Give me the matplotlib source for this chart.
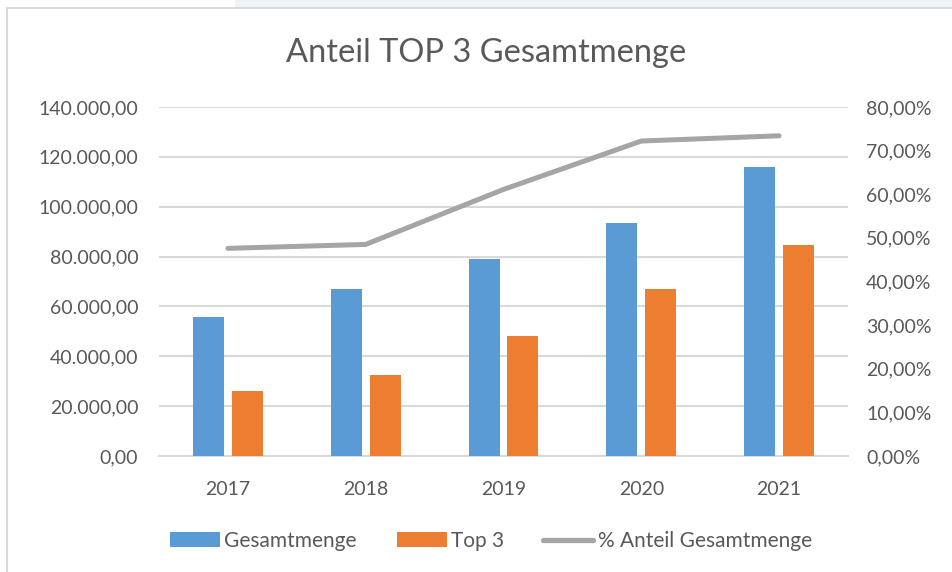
import matplotlib
matplotlib.use("Agg")
import matplotlib.pyplot as plt
import numpy as np
from matplotlib.patches import Rectangle, Patch
from matplotlib.lines import Line2D
from matplotlib.ticker import FuncFormatter, MultipleLocator

years = ["2017", "2018", "2019", "2020", "2021"]
gesamtmenge = [55600, 66800, 79000, 93300, 116000]
top3 = [26200, 32300, 48100, 66800, 84600]
anteil = [0.476, 0.485, 0.611, 0.722, 0.734]

BLUE = "#5B9BD5"
ORANGE = "#ED7D31"
GRAY = "#A5A5A5"
TXT = "#595959"
GRID = "#D9D9D9"

plt.rcParams['font.family'] = ['Lato', 'DejaVu Sans']

W, H = 953, 572
fig = plt.figure(figsize=(W / 100, H / 100), dpi=100)
fig.patch.set_facecolor("white")

def fx(px):
    return px / W

def fy(py):
    return 1 - py / H

# screenshot surroundings: top strip and chart border
fig.patches.append(Rectangle((fx(235), fy(8)), 1 - fx(235), 1 - fy(8),
                             transform=fig.transFigure, facecolor="#EEF3F7",
                             edgecolor="none", zorder=0))
fig.lines.append(Line2D([fx(7), fx(7)], [0, fy(8)], transform=fig.transFigure,
                        color=GRID, lw=1.5))
fig.lines.append(Line2D([fx(7), 1], [fy(8), fy(8)], transform=fig.transFigure,
                        color=GRID, lw=1.5))

left, right, top, bottom = 159, 848, 107, 456
ax = fig.add_axes([fx(left), fy(bottom), fx(right) - fx(left), fy(top) - fy(bottom)])
ax2 = ax.twinx()

x = np.arange(len(years))
bw = 0.225
off = 0.141
ax.bar(x - off, gesamtmenge, bw, color=BLUE, zorder=3)
ax.bar(x + off, top3, bw, color=ORANGE, zorder=3)
ax2.plot(x, anteil, color=GRAY, lw=3.6, solid_capstyle="round",
         solid_joinstyle="round", zorder=4)

ax.set_xlim(-0.5, len(years) - 0.5)
ax.set_ylim(0, 140000)
ax2.set_ylim(0, 0.8)
ax.yaxis.set_major_locator(MultipleLocator(20000))
ax2.yaxis.set_major_locator(MultipleLocator(0.1))

def de_num(v, pos=None):
    s = f"{v:,.2f}"
    return s.replace(",", "X").replace(".", ",").replace("X", ".")

def de_pct(v, pos=None):
    return f"{v * 100:.2f}%".replace(".", ",")

ax.yaxis.set_major_formatter(FuncFormatter(de_num))
ax2.yaxis.set_major_formatter(FuncFormatter(de_pct))
ax.set_xticks(x)
ax.set_xticklabels(years)

ax.grid(axis="y", color=GRID, lw=1.5, zorder=0)
ax.set_axisbelow(True)
for a in (ax, ax2):
    for s in a.spines.values():
        s.set_visible(False)
    a.set_facecolor("none")
ax.spines["bottom"].set_visible(True)
ax.spines["bottom"].set_color(GRID)
ax.spines["bottom"].set_linewidth(1.5)

ax.tick_params(axis="y", length=0, pad=15, labelsize=14, labelcolor=TXT)
ax2.tick_params(axis="y", length=0, pad=13, labelsize=14, labelcolor=TXT)
ax.tick_params(axis="x", length=0, pad=18, labelsize=14, labelcolor=TXT)

fig.text(fx(486), fy(53), "Anteil TOP 3 Gesamtmenge", ha="center", va="center",
         fontsize=23.5, color=TXT)

handles = [Patch(facecolor=BLUE, edgecolor="none"),
           Patch(facecolor=ORANGE, edgecolor="none"),
           Line2D([0], [0], color=GRAY, lw=3.8, solid_capstyle="round")]
labels = ["Gesamtmenge", "Top 3", "% Anteil Gesamtmenge"]
leg = fig.legend(handles, labels, loc="center", bbox_to_anchor=(fx(491), fy(541)),
                 ncol=3, frameon=False, fontsize=15, handlelength=2.4,
                 handleheight=0.7, handletextpad=0.2, columnspacing=1.9,
                 labelcolor=TXT)

fig.savefig("out.png", dpi=100)
